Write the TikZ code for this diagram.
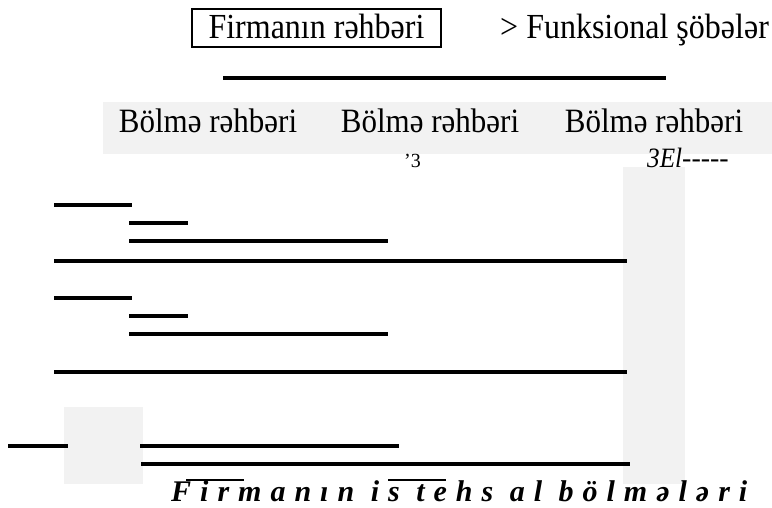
\documentclass[tikz,border=0pt]{standalone}
\usepackage{fontspec}
\setmainfont{Liberation Serif}
\newfontfamily\spacedfont[LetterSpace=30]{Liberation Serif}
\definecolor{bandgray}{HTML}{F2F2F2}
\newcommand{\tallt}[1]{\scalebox{1}[1.1]{#1}}
\begin{document}
\begin{tikzpicture}[x=1pt,y=-1pt,
  bar/.style={line width=3.5pt},
  shade/.style={fill=bandgray},
  plain/.style={inner sep=0pt, anchor=base west},
  headfont/.style={font=\fontsize{32}{38}\selectfont},
  unitfont/.style={font=\fontsize{31}{36}\selectfont}]
\useasboundingbox (0,0) rectangle (772,507);
% grey fills
\fill[shade] (103,102) rectangle (772,154);
\fill[shade] (623,167) rectangle (685,484);
\fill[shade] (64,407) rectangle (143,484);
% top
\node[draw, line width=1.5pt, minimum width=249pt, minimum height=38pt,
      text height=22pt, text depth=2pt, inner sep=0pt, headfont] (boss) at (316.5,28) {\tallt{Firmanın rəhbəri}};
\node[plain, headfont] (func) at (500,38) {\tallt{> Funksional şöbələr}};
\draw[bar, line width=4pt] (223,78) -- (666,78);
% unit heads
\node[inner sep=0pt, anchor=base, unitfont] (u1) at (208,132) {\tallt{Bölmə rəhbəri}};
\node[inner sep=0pt, anchor=base, unitfont] (u2) at (430,132) {\tallt{Bölmə rəhbəri}};
\node[inner sep=0pt, anchor=base, unitfont] (u3) at (654,132) {\tallt{Bölmə rəhbəri}};
\node[plain, font=\fontsize{20}{24}\selectfont] (m1) at (404,167) {'3};
\node[plain, font=\fontsize{28}{32}\selectfont] (m2) at (647,167) {\scalebox{0.9}[1]{\itshape 3El}-{}-{}-{}-{}-};
% lines
\draw[bar] (54,205) -- (132,205);
\draw[bar, line width=4pt] (129,223) -- (188,223);
\draw[bar] (129,241) -- (388,241);
\draw[bar] (54,261) -- (627,261);
\draw[bar] (54,298) -- (132,298);
\draw[bar, line width=4pt] (129,316) -- (188,316);
\draw[bar] (129,334) -- (388,334);
\draw[bar] (54,372) -- (627,372);
\draw[bar] (8,446) -- (68,446);
\draw[bar] (140,446) -- (399,446);
\draw[bar] (141,464) -- (630,464);
% bottom caption
\node[plain, font=\fontsize{30}{36}\spacedfont\bfseries\itshape] (cap) at (171,501) {Firmanın is tehs al bölmələri};
\draw[line width=2pt] (186,480) -- (244,480);
\draw[line width=2pt] (388,480) -- (446,480);
\end{tikzpicture}
\end{document}
